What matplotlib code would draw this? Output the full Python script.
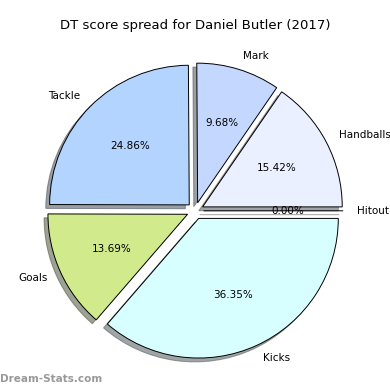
import matplotlib
matplotlib.use('Agg')
from matplotlib import pyplot as plt

labels = ['Hitout', 'Handballs', 'Mark', 'Tackle', 'Goals', 'Kicks']
values = [0.00, 15.42, 9.68, 24.86, 13.69, 36.35]
colors = ['#f0f0ff', '#eaf0ff', '#c4d8ff', '#b3d4ff', '#d0ea8c', '#d8ffff']
explode = [0.06] * len(values)

fig = plt.figure(figsize=(3.9, 3.9), dpi=100)
ax = fig.add_axes([0.053, 0.012, 0.895, 0.895])

wedges, texts, autotexts = ax.pie(values, labels=labels, colors=colors,
                                  explode=explode, shadow=True,
                                  startangle=0, autopct='%1.2f%%',
                                  wedgeprops={'edgecolor': 'black',
                                              'linewidth': 0.7},
                                  textprops={'fontsize': 7.5})
ax.set_aspect('equal')
fig.text(0.5, 0.935, 'DT score spread for Daniel Butler (2017)',
         ha='center', va='center', fontsize=9.5)
fig.text(0.0, 0.015, 'Dream-Stats.com', fontsize=7.5, color='#999999',
         fontweight='bold', ha='left', va='bottom')

plt.savefig('out.png', dpi=100)
